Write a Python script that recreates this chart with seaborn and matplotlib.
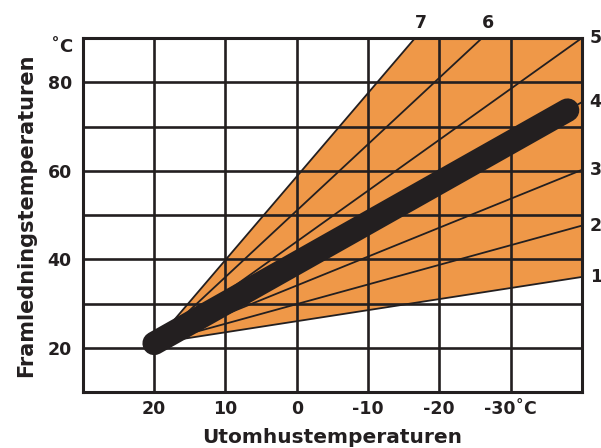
import matplotlib.pyplot as plt
import seaborn as sns
import pandas as pd

sns.set_style("white")
plt.rcParams["font.family"] = ["DejaVu Sans"]

INK = "#231F20"
ORANGE = "#EF9848"

# Heating curves: all start at the same point, end at the chart edge
origin_x, origin_y = 20, 21
curves = ["1", "2", "3", "4", "5", "6", "7"]
end_x = [-40, -40, -40, -40, -40, -26, -16.6]
end_y = [36, 47.6, 60.2, 75.5, 90, 90, 90]

# Thick highlighted curve (curve 4)
thick_end_x, thick_end_y = -38, 73.7

x_ticks = [20, 10, 0, -10, -20, -30]
x_labels = ["20", "10", "0", "-10", "-20", "-30˚C"]
y_ticks = [20, 40, 60, 80]

rows = []
for c, ex, ey in zip(curves, end_x, end_y):
    rows.append({"kurva": c, "ute": origin_x, "fram": origin_y})
    rows.append({"kurva": c, "ute": ex, "fram": ey})
df = pd.DataFrame(rows)

fig = plt.figure(figsize=(6.01, 4.48), dpi=100)
ax = fig.add_axes([0.138, 0.125, 0.830, 0.790])

# orange band between curve 1 and curve 7
poly_x = [origin_x] + end_x
poly_y = [origin_y] + end_y
ax.fill(poly_x, poly_y, color=ORANGE, lw=0, zorder=1)

# grid
for v in range(-30, 30, 10):
    ax.axvline(v, color=INK, lw=1.9, zorder=2)
for h in range(20, 90, 10):
    ax.axhline(h, color=INK, lw=1.9, zorder=2)

sns.lineplot(data=df, x="ute", y="fram", units="kurva", estimator=None,
             color=INK, lw=1.3, ax=ax, zorder=3, legend=False)

ax.plot([origin_x, thick_end_x], [origin_y, thick_end_y], color=INK,
        lw=17, solid_capstyle="round", zorder=4)

ax.set_xlim(30, -40)
ax.set_ylim(10, 90)
for s in ax.spines.values():
    s.set_color(INK)
    s.set_linewidth(2.2)
    s.set_visible(True)

ax.set_xticks(x_ticks)
ax.set_xticklabels(x_labels)
ax.set_yticks(y_ticks)
ax.tick_params(axis="x", length=0, pad=6, labelsize=12.5, colors=INK)
ax.tick_params(axis="y", length=0, pad=8, labelsize=12.5, colors=INK)
for t in ax.get_xticklabels() + ax.get_yticklabels():
    t.set_fontweight("bold")

ax.set_xlabel("Utomhustemperaturen", fontsize=14.5, fontweight="bold",
              color=INK, labelpad=7)
ax.set_ylabel("Framledningstemperaturen", fontsize=15, fontweight="bold",
              color=INK, labelpad=8)

ax.text(-0.02, 0.975, "˚C", transform=ax.transAxes, ha="right", va="center",
        fontsize=13, fontweight="bold", color=INK)

# curve numbers
for c, ex, ey in zip(curves, end_x, end_y):
    if ey >= 90 and ex > -40:
        ax.annotate(c, (ex, ey), xytext=(4, 11), textcoords="offset points",
                    ha="center", va="center", fontsize=12.5,
                    fontweight="bold", color=INK, annotation_clip=False)
    else:
        ax.annotate(c, (ex, ey), xytext=(10, 0), textcoords="offset points",
                    ha="center", va="center", fontsize=12.5,
                    fontweight="bold", color=INK, annotation_clip=False)

fig.savefig("out.png", dpi=100)
